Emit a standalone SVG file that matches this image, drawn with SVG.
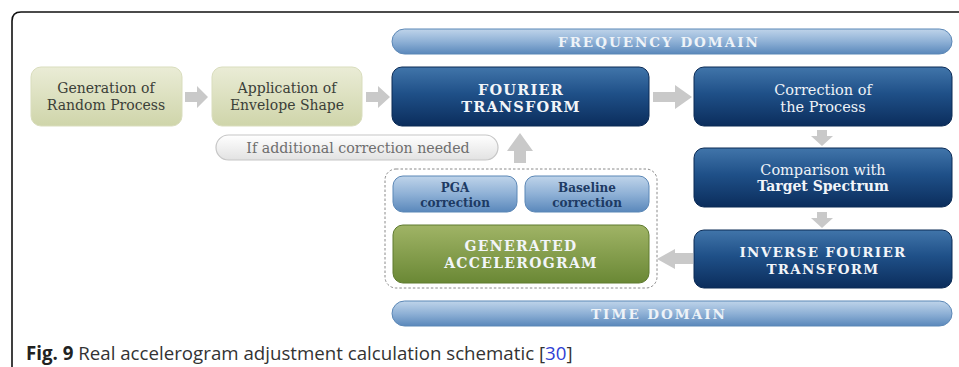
<svg xmlns="http://www.w3.org/2000/svg" width="959" height="367" viewBox="0 0 959 367">
  <defs>
    <linearGradient id="navy" x1="0" y1="0" x2="0" y2="1">
      <stop offset="0" stop-color="#4175aa"/>
      <stop offset="0.45" stop-color="#1f5088"/>
      <stop offset="1" stop-color="#0b2d5c"/>
    </linearGradient>
    <linearGradient id="sky" x1="0" y1="0" x2="0" y2="1">
      <stop offset="0" stop-color="#bfd4ea"/>
      <stop offset="0.5" stop-color="#8fb1d6"/>
      <stop offset="1" stop-color="#5a88bb"/>
    </linearGradient>
    <linearGradient id="beige" x1="0" y1="0" x2="0" y2="1">
      <stop offset="0" stop-color="#eaecd6"/>
      <stop offset="1" stop-color="#cfd5aa"/>
    </linearGradient>
    <linearGradient id="olive" x1="0" y1="0" x2="0" y2="1">
      <stop offset="0" stop-color="#a0b466"/>
      <stop offset="1" stop-color="#6a8835"/>
    </linearGradient>
    <linearGradient id="pale" x1="0" y1="0" x2="0" y2="1">
      <stop offset="0" stop-color="#ffffff"/>
      <stop offset="1" stop-color="#e2e2e2"/>
    </linearGradient>
  </defs>
  <style>
    .navy { fill: url(#navy); stroke: #0a2a55; stroke-width: 1; }
    .sky { fill: url(#sky); stroke: #5b87b6; stroke-width: 1; }
    .beige { fill: url(#beige); stroke: #d9ddbd; stroke-width: 1; }
    .olive { fill: url(#olive); stroke: #5e7a2e; stroke-width: 1; }
    .pale { fill: url(#pale); stroke: #c6c6c6; stroke-width: 1.2; }
    .arrow { fill: #c9c9c9; }
    .serif { font-family: "DejaVu Serif", "Liberation Serif", serif; text-anchor: middle; }
    .dark { fill: #3b4038; font-size: 14px; }
    .light { fill: #eef2f7; font-size: 14.5px; }
    .capsW { fill: #f2f5f9; font-weight: bold; }
    .capsN { fill: #1d3a63; font-weight: bold; font-size: 12px; }
    .bar { fill: #eef3f8; font-weight: bold; font-size: 13.5px; letter-spacing: 2px; }
  </style>

  <rect width="959" height="367" fill="#ffffff"/>

  <!-- figure frame -->
  <path d="M12 372 V21 Q12 12 21 12 H970" fill="none" stroke="#111" stroke-width="1.6"/>

  <!-- domain bars -->
  <g id="frequency-domain">
    <rect class="sky" x="392" y="29" width="560" height="25" rx="12.5"/>
    <text class="serif bar" x="659" y="46.5">FREQUENCY  DOMAIN</text>
  </g>
  <g id="time-domain">
    <rect class="sky" x="392" y="301" width="560" height="25" rx="12.5"/>
    <text class="serif bar" x="659" y="318.5">TIME  DOMAIN</text>
  </g>

  <g id="random-process">
    <rect class="beige" x="31" y="67" width="151" height="59" rx="10"/>
    <text class="serif dark" x="106" y="93">Generation of</text>
    <text class="serif dark" x="106" y="110">Random Process</text>
  </g>
  <g id="envelope-shape">
    <rect class="beige" x="212" y="67" width="150" height="59" rx="10"/>
    <text class="serif dark" x="287" y="93">Application of</text>
    <text class="serif dark" x="287" y="110">Envelope Shape</text>
  </g>
  <g id="fourier-transform">
    <rect class="navy" x="392" y="67" width="257" height="59" rx="10"/>
    <text class="serif capsW" x="521" y="94.5" font-size="14.5" letter-spacing="1.2">FOURIER</text>
    <text class="serif capsW" x="521" y="111.5" font-size="14.5" letter-spacing="1.2">TRANSFORM</text>
  </g>
  <g id="correction">
    <rect class="navy" x="694" y="67" width="258" height="59" rx="10"/>
    <text class="serif light" x="823" y="95">Correction of</text>
    <text class="serif light" x="823" y="112">the Process</text>
  </g>
  <g id="comparison">
    <rect class="navy" x="694" y="148" width="258" height="59" rx="10"/>
    <text class="serif light" x="823" y="174.5">Comparison with</text>
    <text class="serif capsW" x="823" y="191" font-size="14">Target  Spectrum</text>
  </g>
  <g id="inverse-fourier">
    <rect class="navy" x="694" y="230" width="258" height="58" rx="10"/>
    <text class="serif capsW" x="823" y="257" font-size="13.5" letter-spacing="1.3">INVERSE  FOURIER</text>
    <text class="serif capsW" x="823" y="273.5" font-size="13.5" letter-spacing="1.3">TRANSFORM</text>
  </g>
  <g id="additional-correction">
    <rect class="pale" x="216" y="135" width="282" height="25" rx="12.5"/>
    <text class="serif" x="358" y="152.5" font-size="14.2" fill="#6e6e6e">If additional correction needed</text>
  </g>

  <!-- dashed grouping of the time-domain post-processing -->
  <g id="post-processing">
    <rect x="385" y="169" width="272" height="119" rx="11" fill="none" stroke="#8a8a8a" stroke-width="1" stroke-dasharray="2.5 2"/>
    <g id="pga-correction">
      <rect class="sky" x="393" y="176" width="124" height="36" rx="10"/>
      <text class="serif capsN" x="455" y="192">PGA</text>
      <text class="serif capsN" x="455" y="206.5">correction</text>
    </g>
    <g id="baseline-correction">
      <rect class="sky" x="525" y="176" width="124" height="36" rx="10"/>
      <text class="serif capsN" x="587" y="192">Baseline</text>
      <text class="serif capsN" x="587" y="206.5">correction</text>
    </g>
    <g id="generated-accelerogram">
      <rect class="olive" x="393" y="225" width="256" height="58" rx="10"/>
      <text class="serif capsW" x="521" y="251" font-size="14" fill="#e9eedc" letter-spacing="1.3">GENERATED</text>
      <text class="serif capsW" x="521" y="267.5" font-size="14" fill="#e9eedc" letter-spacing="1.3">ACCELEROGRAM</text>
    </g>
  </g>

  <!-- connectors: grey block arrows -->
  <g id="connectors">
    <polygon class="arrow" points="185,92 197,92 197,86 208,97 197,108 197,102 185,102"/>
    <polygon class="arrow" points="366,92 378,92 378,86 390,97 378,108 378,102 366,102"/>
    <polygon class="arrow" points="653,92 675,92 675,85 692,97 675,109 675,102 653,102"/>
    <polygon class="arrow" points="817,130 827,130 827,136 833,136 822,146 811,136 817,136"/>
    <polygon class="arrow" points="817,212 827,212 827,218 833,218 822,228 811,218 817,218"/>
    <polygon class="arrow" points="693,253 675,253 675,249 657,259 675,269 675,264 693,264"/>
    <polygon class="arrow" points="514,163 526,163 526,151 533,151 520,133 507,151 514,151"/>
  </g>

  <!-- caption -->
  <text x="26" y="360" font-family="'Open Sans', 'Noto Sans', sans-serif" font-size="18.7" fill="#333333"><tspan font-weight="bold" fill="#222222">Fig. 9</tspan> Real accelerogram adjustment calculation schematic [<tspan fill="#2f3fd4">30</tspan>]</text>
</svg>
